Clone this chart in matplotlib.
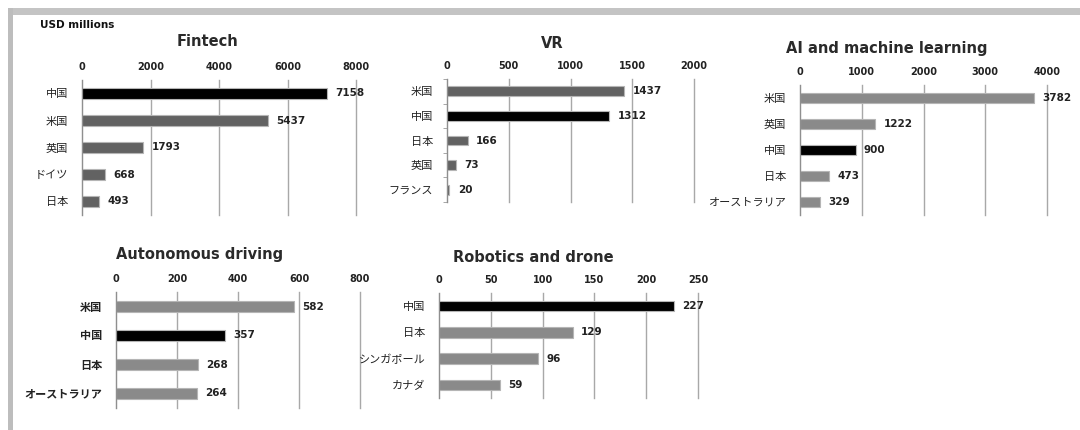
import matplotlib
matplotlib.use("Agg")
import matplotlib.pyplot as plt
from matplotlib.patches import Rectangle
import numpy as np

plt.rcParams['font.family'] = ['DejaVu Sans', 'Noto Sans CJK JP']

# data
fintech_labels = ['中国', '米国', '英国', 'ドイツ', '日本']
fintech_values = [7158, 5437, 1793, 668, 493]

vr_labels = ['米国', '中国', '日本', '英国', 'フランス']
vr_values = [1437, 1312, 166, 73, 20]

ai_labels = ['米国', '英国', '中国', '日本', 'オーストラリア']
ai_values = [3782, 1222, 900, 473, 329]

auto_labels = ['米国', '中国', '日本', 'オーストラリア']
auto_values = [582, 357, 268, 264]

robo_labels = ['中国', '日本', 'シンガポール', 'カナダ']
robo_values = [227, 129, 96, 59]

W, H = 1080, 430
fig = plt.figure(figsize=(W / 100, H / 100), dpi=100)
fig.patch.set_facecolor('white')

# frame bands (top and left)
fig.patches.append(Rectangle((8 / W, 1 - 15 / H), 1, 7 / H, transform=fig.transFigure,
                             facecolor='#c4c4c4', edgecolor='none'))
fig.patches.append(Rectangle((8 / W, 0), 5 / W, 1 - 8 / H, transform=fig.transFigure,
                             facecolor='#bdbdbd', edgecolor='none'))


def px_axes(x0, x1, y0, y1):
    return fig.add_axes([x0 / W, 1 - y1 / H, (x1 - x0) / W, (y1 - y0) / H])


def panel(ax, labels, values, xmax, step, other_color, bold_labels=False, spine_ticks=False):
    n = len(labels)
    y = np.arange(n)
    colors = ['black' if c == '中国' else other_color for c in labels]
    ax.barh(y, values, height=0.4, color=colors, edgecolor='#b5b5b5', linewidth=0.8, zorder=3)
    ax.set_xlim(0, xmax)
    ax.set_ylim(n - 0.5, -0.5)
    ax.xaxis.tick_top()
    ax.set_xticks(np.arange(0, xmax + 1, step))
    ax.tick_params(axis='x', length=0, pad=6, labelsize=7, colors='#222222')
    for t in ax.get_xticklabels():
        t.set_fontweight('bold')
    ax.set_yticks(y)
    ax.set_yticklabels(labels, fontsize=8, fontweight='bold' if bold_labels else 'normal')
    ax.tick_params(axis='y', length=0, pad=10, colors='#222222')
    if spine_ticks:
        ax.set_yticks(np.arange(n + 1) - 0.5, minor=True)
        ax.tick_params(axis='y', which='minor', length=3, color='#999999')
    ax.grid(axis='x', color='#a8a8a8', linewidth=1, zorder=0)
    for gl in ax.get_xgridlines():
        gl.set_clip_on(False)
    for s in ['top', 'right', 'bottom']:
        ax.spines[s].set_visible(False)
    ax.spines['left'].set_color('#8f8f8f')
    ax.spines['left'].set_zorder(4)
    for yi, v in zip(y, values):
        ax.annotate(str(v), (v, yi), xytext=(6, 0), textcoords='offset points',
                    va='center', ha='left', fontsize=7.5, fontweight='bold',
                    color='#222222', annotation_clip=False)


ax1 = px_axes(82, 356, 80, 215)
panel(ax1, fintech_labels, fintech_values, 8000, 2000, '#626262')

ax2 = px_axes(447, 694, 79, 202)
panel(ax2, vr_labels, vr_values, 2000, 500, '#626262', spine_ticks=True)

ax3 = px_axes(800, 1047, 85, 215)
panel(ax3, ai_labels, ai_values, 4000, 1000, '#8a8a8a')

ax4 = px_axes(116, 360, 292, 408)
panel(ax4, auto_labels, auto_values, 800, 200, '#8a8a8a', bold_labels=True)

ax5 = px_axes(439, 698, 293, 398)
panel(ax5, robo_labels, robo_values, 250, 50, '#8a8a8a')

titles = [('Fintech', 208, 42), ('VR', 552, 43), ('AI and machine learning', 887, 48),
          ('Autonomous driving', 200, 255), ('Robotics and drone', 533, 257)]
for txt, x, yy in titles:
    fig.text(x / W, 1 - yy / H, txt, ha='center', va='center', fontsize=10.5,
             fontweight='bold', color='#2a2a2a')

fig.text(40 / W, 1 - 25 / H, 'USD millions', ha='left', va='center', fontsize=7.5,
         fontweight='bold', color='#111111')

fig.savefig('out.png', dpi=100, facecolor='white')
